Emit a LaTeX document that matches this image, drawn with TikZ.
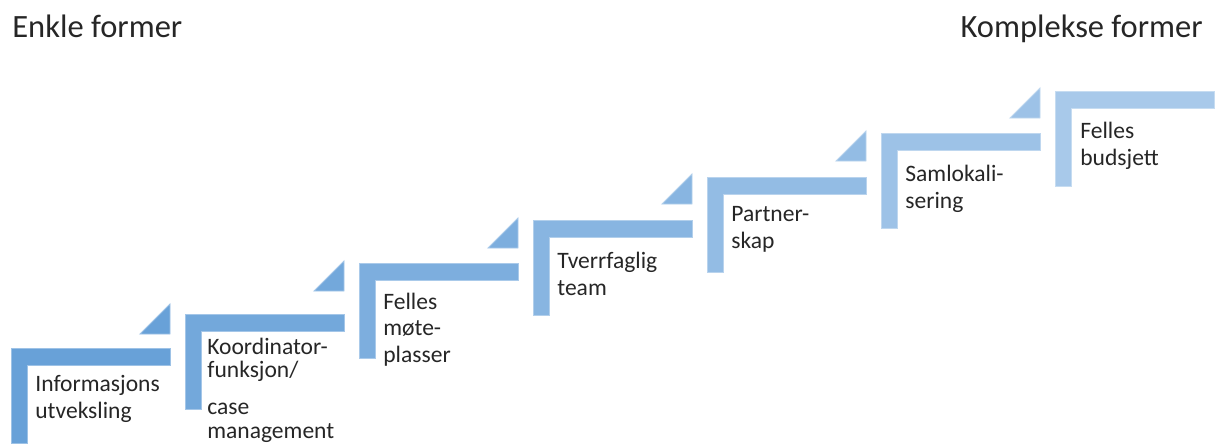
\documentclass[tikz,border=0pt]{standalone}
\usepackage{fontspec}
\setmainfont{Carlito}
\usepackage{xcolor}

\definecolor{lvl1}{RGB}{104,161,216}
\definecolor{lvl2}{RGB}{115,168,219}
\definecolor{lvl3}{RGB}{125,174,222}
\definecolor{lvl4}{RGB}{136,181,225}
\definecolor{lvl5}{RGB}{147,188,228}
\definecolor{lvl6}{RGB}{157,194,231}
\definecolor{lvl7}{RGB}{168,201,234}

\begin{document}
\begin{tikzpicture}[x=0.02cm, y=-0.02cm,
    stepbar/.style={fill=#1, draw=#1!65!white, line width=0.5pt},
    steptext/.style={anchor=base west, align=left, inner sep=0pt, text=black!85,
      font=\fontsize{13.4}{15}\selectfont},
    heading/.style={inner sep=0pt, text=black!85, font=\fontsize{18.5}{22}\selectfont}]
    \useasboundingbox (0,0) rectangle (1216,444);
    \node[heading, anchor=base west] (enkle) at (12, 37) {Enkle former};
    \node[heading, anchor=base east] (kompleks) at (1203, 37) {Komplekse former};
    % trappetrinn
    \filldraw[stepbar=lvl1] (11,348) -- (170,348) -- (170,365) -- (27,365) -- (27,443) -- (11,443) -- cycle;
    \filldraw[stepbar=lvl2] (185,314) -- (344,314) -- (344,331) -- (201,331) -- (201,409) -- (185,409) -- cycle;
    \filldraw[stepbar=lvl3] (359,263) -- (518,263) -- (518,280) -- (375,280) -- (375,358) -- (359,358) -- cycle;
    \filldraw[stepbar=lvl4] (533,220) -- (692,220) -- (692,237) -- (549,237) -- (549,315) -- (533,315) -- cycle;
    \filldraw[stepbar=lvl5] (707,177) -- (866,177) -- (866,194) -- (723,194) -- (723,272) -- (707,272) -- cycle;
    \filldraw[stepbar=lvl6] (881,133) -- (1040,133) -- (1040,150) -- (897,150) -- (897,228) -- (881,228) -- cycle;
    \filldraw[stepbar=lvl7] (1055,91) -- (1214,91) -- (1214,108) -- (1071,108) -- (1071,186) -- (1055,186) -- cycle;
    % trekanter
    \filldraw[stepbar=lvl1] (140,334) -- (170,304) -- (170,334) -- cycle;
    \filldraw[stepbar=lvl2] (314,291) -- (344,261) -- (344,291) -- cycle;
    \filldraw[stepbar=lvl3] (488,248) -- (518,218) -- (518,248) -- cycle;
    \filldraw[stepbar=lvl4] (662,204) -- (692,174) -- (692,204) -- cycle;
    \filldraw[stepbar=lvl5] (836,161) -- (866,131) -- (866,161) -- cycle;
    \filldraw[stepbar=lvl6] (1010,118) -- (1040,88) -- (1040,118) -- cycle;
    % tekst (base = siste linje)
    \node[steptext] (t1) at (35, 418) {Informasjons\\utveksling};
    \node[steptext, font=\fontsize{13.4}{13.6}\selectfont] (t2) at (207, 438) {Koordinator-\\funksjon/\\[7pt]case\\management};
    \node[steptext] (t3) at (383, 362) {Felles\\møte-\\plasser};
    \node[steptext] (t4) at (557, 295) {Tverrfaglig\\team};
    \node[steptext] (t5) at (731, 248) {Partner-\\skap};
    \node[steptext] (t6) at (905, 208) {Samlokali-\\sering};
    \node[steptext] (t7) at (1080, 165) {Felles\\budsjett};
  \end{tikzpicture}
\end{document}
